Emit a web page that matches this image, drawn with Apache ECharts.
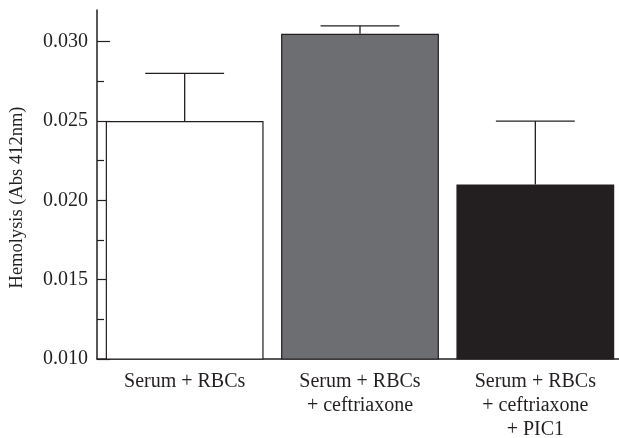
<!DOCTYPE html>
<html>
<head>
<meta charset="utf-8">
<script src="https://cdn.jsdelivr.net/npm/echarts@6/dist/echarts.min.js"></script>
<style>html,body{margin:0;padding:0;background:#fff}#c{width:619px;height:438px}</style>
</head>
<body>
<div id="c"></div>
<script>
const categories = ['Serum + RBCs', 'Serum + RBCs\n+ ceftriaxone', 'Serum + RBCs\n+ ceftriaxone\n+ PIC1'];
const values = [0.025, 0.0305, 0.021];
const errorTops = [0.028, 0.031, 0.025];
const barColors = ['#ffffff', '#6d6e71', '#231f20'];
const majorTicks = [0.010, 0.015, 0.020, 0.025, 0.030];
const minorTicks = [0.0125, 0.0175, 0.0225, 0.0275];
const yTitle = 'Hemolysis (Abs 412nm)';

const FONT = 'Liberation Serif';
const TXT = '#231f20';
const chart = echarts.init(document.getElementById('c'), null, {renderer: 'canvas'});
chart.setOption({
  animation: false,
  backgroundColor: '#fff',
  grid: {left: 97, width: 526, top: 10, bottom: 79, containLabel: false, outerBoundsMode: 'none'},
  xAxis: {
    type: 'category',
    data: categories,
    axisLine: {lineStyle: {color: TXT, width: 1.5}},
    axisTick: {show: false},
    axisLabel: {fontFamily: FONT, fontSize: 20, color: TXT, lineHeight: 24, margin: 11, interval: 0}
  },
  yAxis: [{
    type: 'value', min: 0.010, max: 0.032,
    name: yTitle, nameLocation: 'middle', nameGap: 70,
    nameTextStyle: {fontFamily: FONT, fontSize: 18.5, color: TXT, padding: [0, 26, 0, 0]},
    splitLine: {show: false},
    axisLine: {show: true, lineStyle: {color: TXT, width: 1.5}},
    axisTick: {show: true, inside: true, length: 13, customValues: majorTicks, lineStyle: {color: TXT, width: 1.2}},
    axisLabel: {customValues: majorTicks, fontFamily: FONT, fontSize: 20, color: TXT, margin: 9,
      formatter: v => v.toFixed(3)}
  }, {
    type: 'value', min: 0.010, max: 0.032, position: 'left', offset: 0,
    splitLine: {show: false},
    axisLine: {show: false},
    axisTick: {show: true, inside: true, length: 7, customValues: minorTicks, lineStyle: {color: TXT, width: 1.2}},
    axisLabel: {show: false}
  }],
  series: [{
    type: 'bar',
    data: values.map((v, i) => ({value: v, itemStyle: {color: barColors[i]}})),
    barWidth: '90%',
    itemStyle: {borderColor: TXT, borderWidth: 1.2},
    z: 3
  }, {
    type: 'custom',
    data: values.map((v, i) => [i, v, errorTops[i]]),
    z: 2,
    renderItem: function (params, api) {
      const base = api.coord([api.value(0), api.value(1)]);
      const top = api.coord([api.value(0), api.value(2)]);
      const bw = api.size([1, 0])[0];
      const hw = bw * 0.225;
      const style = {stroke: TXT, lineWidth: 1.3};
      return {type: 'group', children: [
        {type: 'line', shape: {x1: top[0], y1: base[1], x2: top[0], y2: top[1]}, style: style},
        {type: 'line', shape: {x1: top[0] - hw, y1: top[1], x2: top[0] + hw, y2: top[1]}, style: style}
      ]};
    }
  }]
});
</script>
</body>
</html>
